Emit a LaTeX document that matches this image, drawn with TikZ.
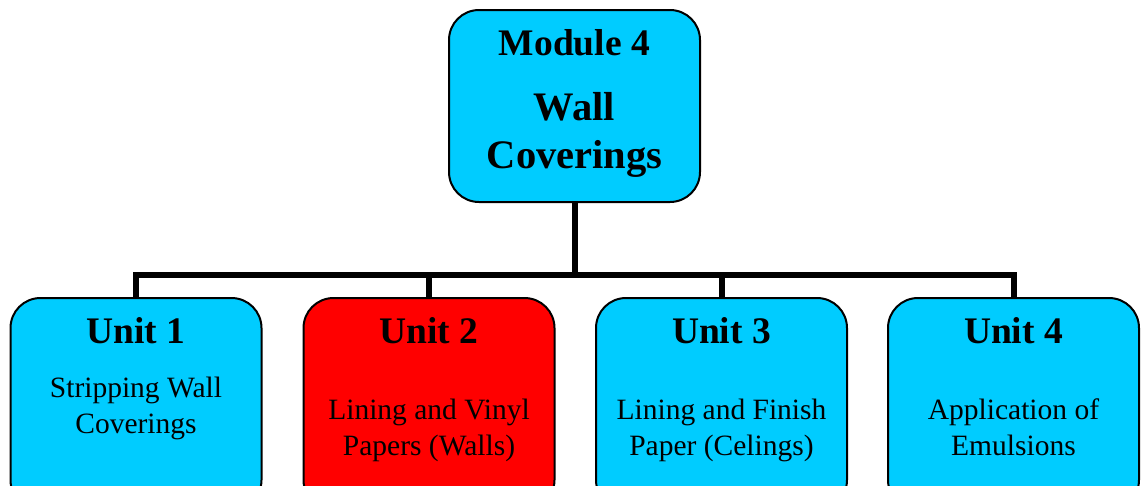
\documentclass[tikz,border=0pt]{standalone}
\usepackage{fontspec}
\setmainfont{Liberation Serif}
\definecolor{boxcyan}{RGB}{0,204,255}
\definecolor{boxred}{RGB}{255,0,0}
\begin{document}
\begin{tikzpicture}[x=1pt,y=-1pt,
  box/.style={draw=black, line width=2pt, rounded corners=30pt, minimum width=251pt, inner sep=0pt},
  link/.style={line width=6pt, line join=miter},
  head/.style={anchor=base, font=\bfseries\fontsize{37.5}{40}\selectfont},
  body/.style={anchor=base, font=\fontsize{29.5}{32}\selectfont}]
\useasboundingbox (0,0) rectangle (1144,485);
% boxes
\node[box, fill=boxcyan, minimum height=192pt] (top) at (574.5,106) {};
\node[box, fill=boxcyan, minimum height=212pt] (u1) at (136,404) {};
\node[box, fill=boxred, minimum height=212pt] (u2) at (429,404) {};
\node[box, fill=boxcyan, minimum height=212pt] (u3) at (721.5,404) {};
\node[box, fill=boxcyan, minimum height=212pt] (u4) at (1013.5,404) {};
% connectors
\coordinate (bar) at (574.5,275);
\draw[link] (top.south) -- (top.south |- bar);
\draw[link] (u1.north) -- (u1.north |- bar) -- (u4.north |- bar) -- (u4.north);
\draw[link] (u2.north) -- (u2.north |- bar);
\draw[link] (u3.north) -- (u3.north |- bar);
% top text
\node[head] (m1) at (574.5,55) {Module 4};
\node[head, font=\bfseries\fontsize{40.5}{44}\selectfont] (m2) at (574.5,120) {Wall};
\node[head, font=\bfseries\fontsize{40.5}{44}\selectfont] (m3) at (574.5,168) {Coverings};
% unit headings
\node[head] (h1) at (136,343) {Unit 1};
\node[head] (h2) at (429,343) {Unit 2};
\node[head] (h3) at (721.5,343) {Unit 3};
\node[head] (h4) at (1013.5,343) {Unit 4};
% unit bodies
\node[body] (b1a) at (136,397) {Stripping Wall};
\node[body] (b1b) at (136,433) {Coverings};
\node[body] (b2a) at (429,419) {Lining and Vinyl};
\node[body] (b2b) at (429,455) {Papers (Walls)};
\node[body] (b3a) at (721.5,419) {Lining and Finish};
\node[body] (b3b) at (721.5,455) {Paper (Celings)};
\node[body] (b4a) at (1013.5,419) {Application of};
\node[body] (b4b) at (1013.5,455) {Emulsions};
\end{tikzpicture}
\end{document}
